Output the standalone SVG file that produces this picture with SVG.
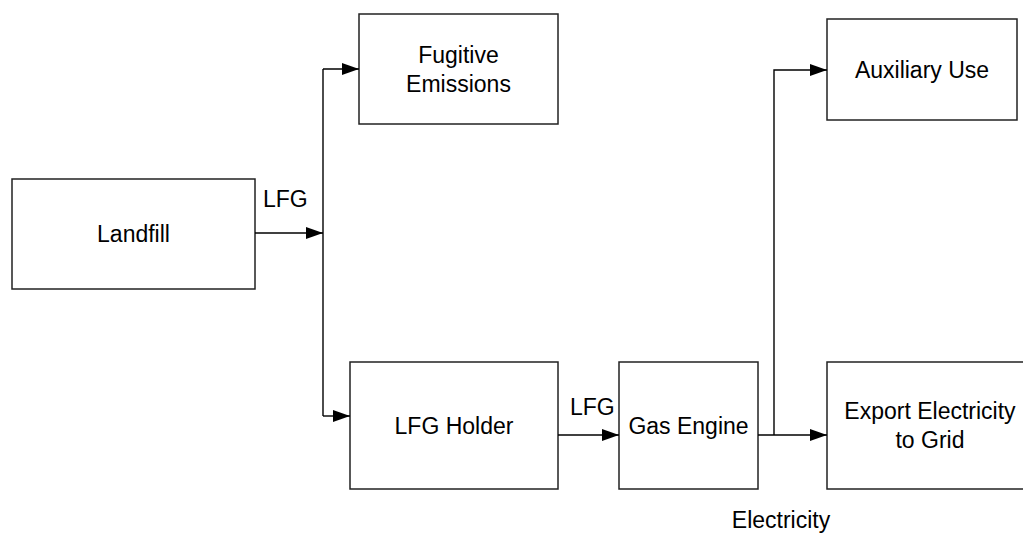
<svg xmlns="http://www.w3.org/2000/svg" width="1023" height="534" viewBox="0 0 1023 534">
<style>
.box{fill:#fff;stroke:#222;stroke-width:1.5}
.t{font-family:"Liberation Sans",Arial,sans-serif;font-size:23px;fill:#000;text-anchor:middle}
.tl{font-family:"Liberation Sans",Arial,sans-serif;font-size:23px;fill:#000}
.c{fill:none;stroke:#000;stroke-width:1.4}
</style>
<defs>
<marker id="ah" viewBox="0 0 17 12" refX="17" refY="6" markerWidth="17" markerHeight="12" markerUnits="userSpaceOnUse" orient="auto">
<path d="M0,0 L17,6 L0,12 Z" fill="#000"/>
</marker>
</defs>
<rect width="1023" height="534" fill="#fff"/>
<g id="landfill"><rect class="box" x="12" y="179" width="243" height="110"/><text class="t" x="133.5" y="242">Landfill</text></g>
<g id="fugitive"><rect class="box" x="359" y="14" width="199" height="110"/><text class="t" x="458.5" y="63">Fugitive</text><text class="t" x="458.5" y="92">Emissions</text></g>
<g id="holder"><rect class="box" x="350" y="362" width="208" height="127"/><text class="t" x="454" y="434">LFG Holder</text></g>
<g id="engine"><rect class="box" x="619" y="362" width="139" height="127"/><text class="t" x="688.5" y="434">Gas Engine</text></g>
<g id="auxiliary"><rect class="box" x="827" y="19" width="190" height="101"/><text class="t" x="922" y="78">Auxiliary Use</text></g>
<g id="export"><rect class="box" x="827" y="362" width="206" height="127"/><text class="t" x="930" y="419">Export Electricity</text><text class="t" x="930" y="448">to Grid</text></g>
<g id="connectors">
<path class="c" d="M255,233 H323" marker-end="url(#ah)"/>
<path class="c" d="M323,69 V416"/>
<path class="c" d="M323,69 H359" marker-end="url(#ah)"/>
<path class="c" d="M323,416 H350" marker-end="url(#ah)"/>
<path class="c" d="M558,435 H619" marker-end="url(#ah)"/>
<path class="c" d="M758,435 H827" marker-end="url(#ah)"/>
<path class="c" d="M774,435 V70 H827" marker-end="url(#ah)"/>
</g>
<g id="labels">
<text class="tl" x="263" y="207">LFG</text>
<text class="tl" x="570" y="415">LFG</text>
<text class="t" x="781" y="528">Electricity</text>
</g>
</svg>
